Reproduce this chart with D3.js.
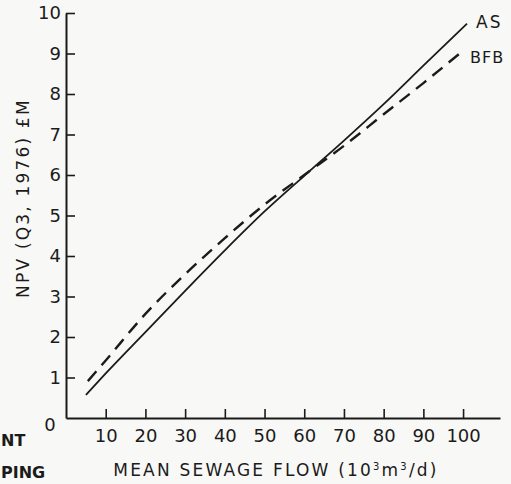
<!DOCTYPE html>
<html>
<head>
<meta charset="utf-8">
<script src="https://cdn.jsdelivr.net/npm/d3@7"></script>
<style>
  body { margin: 0; background: #f8f8f6; }
  svg { display: block; font-family: "DejaVu Sans", sans-serif; }
</style>
</head>
<body>
<div id="chart"></div>
<script>
// Values
const asFlow = [5, 10, 20, 30, 40, 50, 60, 70, 80, 90, 101];
const asNpv = [0.57, 1.1, 2.12, 3.14, 4.14, 5.1, 5.98, 6.85, 7.75, 8.7, 9.74];
const bfbFlow = [5.5, 10, 20, 30, 40, 50, 60, 70, 80, 90, 99.5];
const bfbNpv = [0.91, 1.42, 2.57, 3.55, 4.44, 5.27, 6.0, 6.72, 7.5, 8.27, 9.03];
const xTicks = [10, 20, 30, 40, 50, 60, 70, 80, 90, 100];
const yTicks = [1, 2, 3, 4, 5, 6, 7, 8, 9, 10];

const W = 511, H = 484;
const ink = "#1b1b1b";

const svg = d3.select("#chart")
  .append("svg")
    .attr("width", W)
    .attr("height", H);

// Scales
const x = d3.scaleLinear().domain([0, 109.3]).range([66, 500]);
const y = d3.scaleLinear().domain([0, 10]).range([418, 13]);

// X axis (ticks point inward)
const xAxis = svg.append("g")
  .attr("transform", `translate(0,${y(0)})`)
  .call(d3.axisBottom(x).tickValues(xTicks).tickSize(-9).tickSizeOuter(0).tickPadding(11));

// Y axis
const yAxis = svg.append("g")
  .attr("transform", `translate(${x(0)},0)`)
  .call(d3.axisLeft(y).tickValues(yTicks).tickSize(-9).tickSizeOuter(0).tickPadding(5));

[xAxis, yAxis].forEach(g => {
  g.select(".domain").attr("stroke", ink).attr("stroke-width", 2);
  g.selectAll(".tick line").attr("stroke", ink).attr("stroke-width", 1.6);
  g.selectAll(".tick text")
    .attr("fill", ink)
    .style("font-size", "18px")
    .style("font-family", "DejaVu Sans, sans-serif");
});

// origin label
svg.append("text")
  .attr("x", 50)
  .attr("y", 431)
  .attr("text-anchor", "middle")
  .attr("fill", ink)
  .style("font-size", "18px")
  .text("0");

// Lines
const line = d3.line()
  .x(d => x(d[0]))
  .y(d => y(d[1]))
  .curve(d3.curveMonotoneX);

svg.append("path")
  .datum(asFlow.map((f, i) => [f, asNpv[i]]))
  .attr("fill", "none")
  .attr("stroke", ink)
  .attr("stroke-width", 1.8)
  .attr("d", line);

svg.append("path")
  .datum(bfbFlow.map((f, i) => [f, bfbNpv[i]]))
  .attr("fill", "none")
  .attr("stroke", ink)
  .attr("stroke-width", 2.4)
  .attr("stroke-dasharray", "13,8")
  .attr("d", line);

// Series labels
svg.append("text")
  .attr("x", 476)
  .attr("y", 28)
  .attr("fill", ink)
  .style("font-size", "17px")
  .style("letter-spacing", "2px")
  .text("AS");

svg.append("text")
  .attr("x", 470)
  .attr("y", 63)
  .attr("fill", ink)
  .style("font-size", "16px")
  .style("letter-spacing", "1px")
  .text("BFB");

// Axis titles
svg.append("text")
  .attr("x", 276)
  .attr("y", 476)
  .attr("text-anchor", "middle")
  .attr("fill", ink)
  .style("font-size", "17px")
  .style("letter-spacing", "2.2px")
  .html("MEAN SEWAGE FLOW (10<tspan dy='-6' font-size='10px'>3</tspan><tspan dy='6'>m</tspan><tspan dy='-6' font-size='10px'>3</tspan><tspan dy='6'>/d)</tspan>");

svg.append("text")
  .attr("transform", "translate(29,198) rotate(-90)")
  .attr("text-anchor", "middle")
  .attr("fill", ink)
  .style("font-size", "17px")
  .style("letter-spacing", "2.2px")
  .text("NPV (Q3, 1976) £M");

// Cropped text from the neighbouring figure
svg.append("text")
  .attr("x", 1)
  .attr("y", 446)
  .attr("fill", ink)
  .style("font-size", "16px")
  .style("font-weight", "bold")
  .text("NT");

svg.append("text")
  .attr("x", 1)
  .attr("y", 478)
  .attr("fill", ink)
  .style("font-size", "16px")
  .style("font-weight", "bold")
  .text("PING");
</script>
</body>
</html>
